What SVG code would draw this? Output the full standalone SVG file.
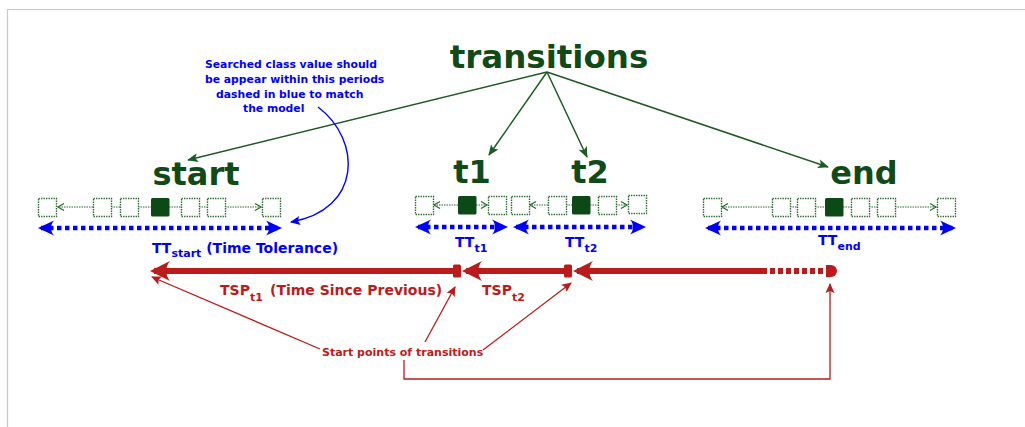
<svg xmlns="http://www.w3.org/2000/svg" width="1025" height="427" viewBox="0 0 1025 427">
<style>
.ttl{font-family:"DejaVu Sans",sans-serif;font-weight:bold;fill:#0f4a17}
.box{fill:#fff;stroke:#2e6b34;stroke-width:1.4;stroke-dasharray:1.4 1.1}
.fbox{fill:#0b4a14}
.row{stroke:#2e6b34;stroke-width:1.2;stroke-dasharray:1.5 1;fill:none}
.rowa{stroke:#2e6b34;stroke-width:1.2;stroke-dasharray:1.5 1;fill:none;marker-end:url(#rowArr)}
.gline{stroke:#1e5a24;stroke-width:1.5;fill:none;marker-end:url(#gArr)}
.bline{stroke:#0000ff;stroke-width:4.5;stroke-dasharray:4.5 3.5;fill:none;marker-start:url(#bArr);marker-end:url(#bArr)}
.bt{font-family:"DejaVu Sans",sans-serif;font-weight:bold;fill:#0000ff}
.rt{font-family:"DejaVu Sans",sans-serif;font-weight:bold;fill:#bb1b1b}
.rthick{stroke:#bb1b1b;stroke-width:6;fill:none}
.rthin{stroke:#bb1b1b;stroke-width:1.3;fill:none}
.rmark{fill:#bb1b1b}
</style>
<defs>
<marker id="gArr" markerUnits="userSpaceOnUse" viewBox="-12 -6 14 12" refX="0" refY="0" markerWidth="14" markerHeight="12" orient="auto">
<path d="M1,0 L-10,-4.5 L-7.5,0 L-10,4.5 Z" fill="#1e5a24"/>
</marker>
<marker id="rowArr" markerUnits="userSpaceOnUse" viewBox="-8 -5 10 10" refX="0" refY="0" markerWidth="10" markerHeight="10" orient="auto">
<path d="M-6,-3.5 L0,0 L-6,3.5" fill="none" stroke="#2e6b34" stroke-width="1.3"/>
</marker>
<marker id="bArr" markerUnits="userSpaceOnUse" viewBox="-16 -9 20 18" refX="0" refY="0" markerWidth="20" markerHeight="18" orient="auto-start-reverse">
<path d="M3,0 L-13,-7.5 C-9,-3 -9,3 -13,7.5 Z" fill="#0000ff"/>
</marker>
<marker id="rArr" markerUnits="userSpaceOnUse" viewBox="-20 -12 26 24" refX="0" refY="0" markerWidth="26" markerHeight="24" orient="auto">
<path d="M4,0 L-16,-10 C-11,-4 -11,4 -16,10 Z" fill="#bb1b1b"/>
</marker>
<marker id="rSm" markerUnits="userSpaceOnUse" viewBox="-12 -6 14 12" refX="0" refY="0" markerWidth="14" markerHeight="12" orient="auto">
<path d="M1,0 L-9,-4.5 L-7,0 L-9,4.5 Z" fill="#bb1b1b"/>
</marker>
<marker id="bSm" markerUnits="userSpaceOnUse" viewBox="-12 -6 14 12" refX="0" refY="0" markerWidth="14" markerHeight="12" orient="auto">
<path d="M1,0 L-9,-4.5 L-7,0 L-9,4.5 Z" fill="#0000ff"/>
</marker>
</defs>

<rect width="1025" height="427" fill="#fff"/>
<path d="M7.5,427 V9.5 H1025" fill="none" stroke="#c8c8c8" stroke-width="1.2"/>

<g id="connectors">
<path class="gline" d="M547,72 L188,160"/>
<path class="gline" d="M547,72 L489,155"/>
<path class="gline" d="M547,72 L587,157"/>
<path class="gline" d="M547,72 L828,167"/>
<path d="M318,107 C362,140 362,210 291,222" fill="none" stroke="#0000ff" stroke-width="1.4" marker-end="url(#bSm)"/>
<path class="rthin" d="M320,349 L152,277" marker-end="url(#rSm)"/>
<path class="rthin" d="M425,342 L455,287" marker-end="url(#rSm)"/>
<path class="rthin" d="M483,350 L571,283" marker-end="url(#rSm)"/>
<path class="rthin" d="M404,360 V379 H830 V284" marker-end="url(#rSm)"/>
</g>

<g id="transitions">
<text class="ttl" x="549" y="68" font-size="32.5" text-anchor="middle">transitions</text>
</g>

<g id="start">
<text class="ttl" x="196" y="185" font-size="32" text-anchor="middle">start</text>
<path class="rowa" d="M93,207 H58"/>
<path class="row" d="M111,207 H120 M138,207 H151 M169,207 H181 M199,207 H207"/>
<path class="rowa" d="M225,207 H261"/>
<rect class="box" x="38.5" y="198.5" width="18" height="18"/>
<rect class="box" x="93.5" y="198.5" width="18" height="18"/>
<rect class="box" x="120.5" y="198.5" width="18" height="18"/>
<rect class="fbox" x="151" y="198" width="18.5" height="18.5" rx="1.5"/>
<rect class="box" x="181.5" y="198.5" width="18" height="18"/>
<rect class="box" x="207.5" y="198.5" width="18" height="18"/>
<rect class="box" x="262.5" y="198.5" width="18" height="18"/>
<path class="bline" d="M41,228 H279"/>
<text class="bt" x="152" y="253" font-size="14">TT<tspan font-size="11" dy="4">start</tspan><tspan dy="-4"> (Time Tolerance)</tspan></text>
</g>

<g id="t1">
<text class="ttl" x="472" y="183" font-size="32" text-anchor="middle">t1</text>
<path class="rowa" d="M458,205 H434"/>
<path class="rowa" d="M476,205 H487"/>
<rect class="box" x="415.5" y="196.5" width="18" height="18"/>
<rect class="fbox" x="458" y="196" width="18.5" height="18.5" rx="1.5"/>
<rect class="box" x="488.5" y="196.5" width="18" height="18"/>
<path class="bline" d="M418,227 H505"/>
<text class="bt" x="455" y="247" font-size="14">TT<tspan font-size="11" dy="5">t1</tspan></text>
</g>

<g id="t2">
<text class="ttl" x="590" y="183" font-size="32" text-anchor="middle">t2</text>
<path class="rowa" d="M548,205 H530"/>
<path class="row" d="M566,205 H572 M590,205 H598"/>
<path class="rowa" d="M616,205 H627"/>
<rect class="box" x="511.5" y="196.5" width="18" height="18"/>
<rect class="box" x="548.5" y="196.5" width="18" height="18"/>
<rect class="fbox" x="572" y="196" width="18.5" height="18.5" rx="1.5"/>
<rect class="box" x="598.5" y="196.5" width="18" height="18"/>
<rect class="box" x="628.5" y="195.5" width="18" height="18"/>
<path class="bline" d="M516,227 H643"/>
<text class="bt" x="565" y="247" font-size="14">TT<tspan font-size="11" dy="5">t2</tspan></text>
</g>

<g id="end">
<text class="ttl" x="864" y="184" font-size="32" text-anchor="middle">end</text>
<path class="rowa" d="M772,207 H722"/>
<path class="row" d="M790,207 H797 M815,207 H825 M843,207 H851 M869,207 H877"/>
<path class="rowa" d="M895,207 H936"/>
<rect class="box" x="703.5" y="198.5" width="18" height="18"/>
<rect class="box" x="772.5" y="198.5" width="18" height="18"/>
<rect class="box" x="797.5" y="198.5" width="18" height="18"/>
<rect class="fbox" x="825" y="198" width="18.5" height="18.5" rx="1.5"/>
<rect class="box" x="851.5" y="198.5" width="18" height="18"/>
<rect class="box" x="877.5" y="198.5" width="18" height="18"/>
<rect class="box" x="937.5" y="198.5" width="18" height="18"/>
<path class="bline" d="M708,228 H953"/>
<text class="bt" x="818" y="245" font-size="14">TT<tspan font-size="11" dy="5">end</tspan></text>
</g>

<g id="timeline">
<path class="rthick" d="M457,271 H154" marker-end="url(#rArr)"/>
<path class="rthick" d="M568,271 H466" marker-end="url(#rArr)"/>
<path class="rthick" d="M762,271 H577" marker-end="url(#rArr)"/>
<path class="rthick" d="M762,271 H828" stroke-dasharray="5 3"/>
<rect class="rmark" x="453" y="264.5" width="8" height="13" rx="1.5"/>
<rect class="rmark" x="564" y="264.5" width="8" height="13" rx="1.5"/>
<path class="rmark" d="M826,265 H831 A6,6 0 0 1 831,277 H826 Z"/>
<text class="rt" x="220" y="295" font-size="14">TSP<tspan font-size="11" dy="6">t1</tspan><tspan x="270" dy="-6">(Time Since Previous)</tspan></text>
<text class="rt" x="482" y="295" font-size="14">TSP<tspan font-size="11" dy="6">t2</tspan></text>
</g>

<g id="annotation">
<text class="bt" font-size="10.8"><tspan x="205" y="68">Searched class value should</tspan><tspan x="205" y="83">be appear within this periods</tspan><tspan x="216" y="98">dashed in blue to match</tspan><tspan x="243" y="112">the model</tspan></text>
</g>

<g id="start-points">
<text class="rt" x="322" y="356" font-size="11">Start points of transitions</text>
</g>
</svg>
